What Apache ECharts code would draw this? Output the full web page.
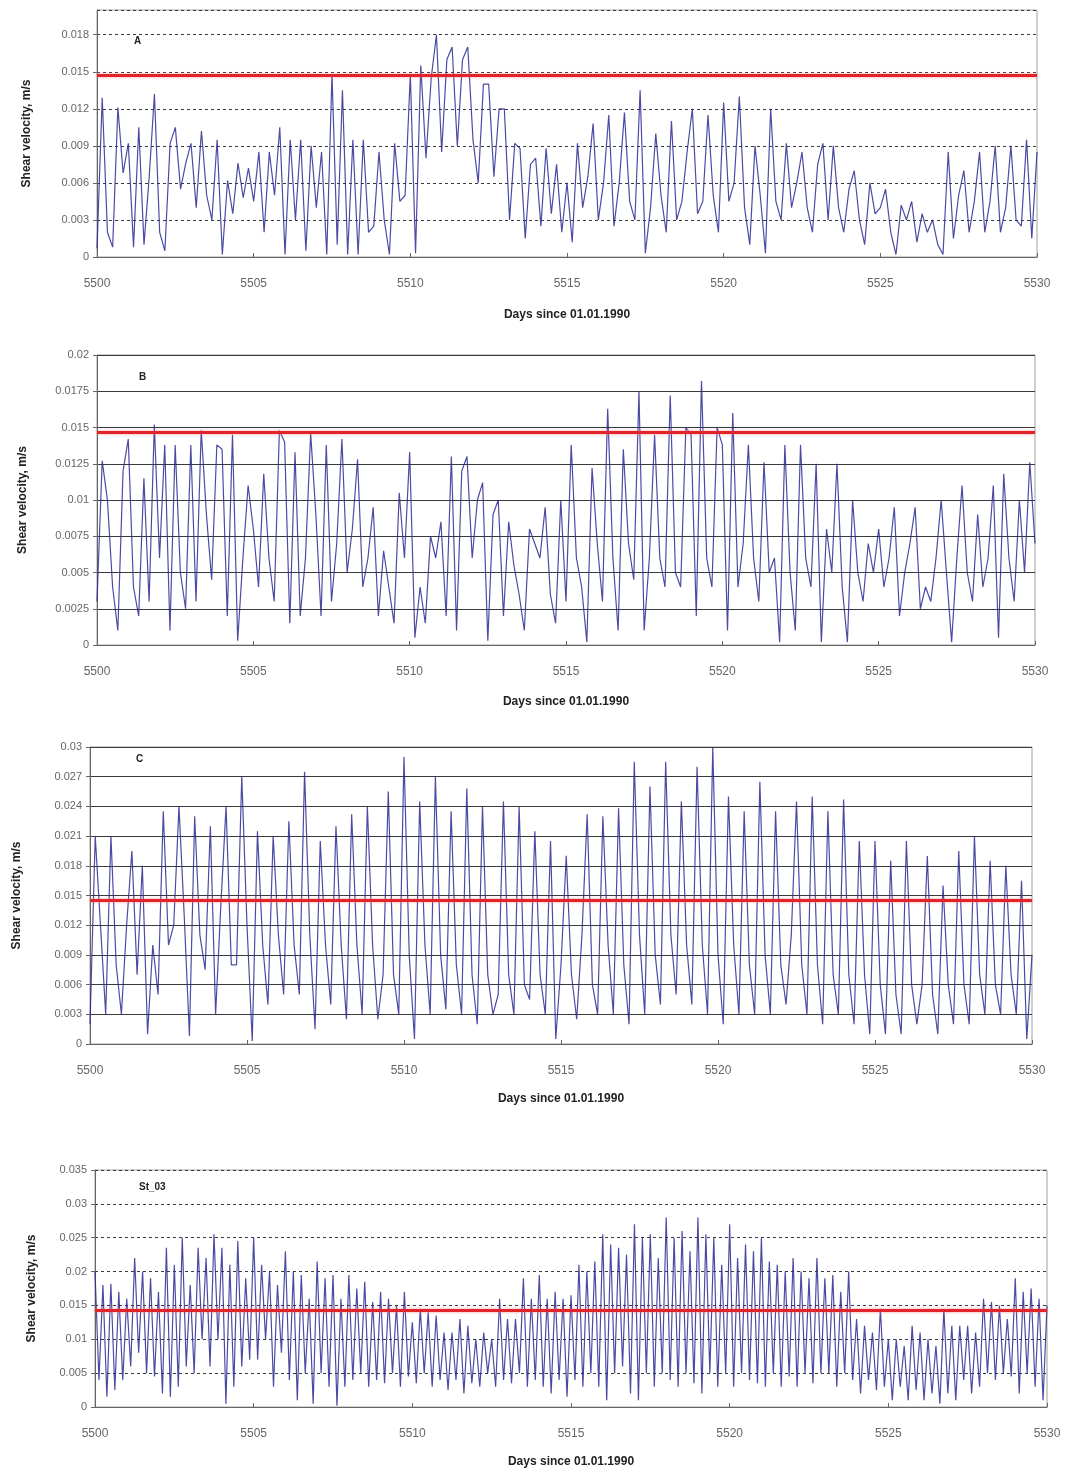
<!DOCTYPE html>
<html lang="en">
<head>
    <meta charset="UTF-8">
    <title>Shear velocity, stations A, B, C, St_03</title>
    <script src="https://cdn.jsdelivr.net/npm/echarts@6.0.0/dist/echarts.min.js"></script>
    <style>
        body { margin: 0; background: #fff; }
    </style>
</head>
<body>
<!-- one canvas, four stacked panels -->
<div id="main" style="width: 1068px;height:1472px;"></div>
<script type="text/javascript">
    // x axis: days since 01.01.1990
    var dayStart = 5500;
    var dayEnd = 5530;
    var xTicks = [5500, 5505, 5510, 5515, 5520, 5525, 5530];

    // panel A, 6 readings per day (m/s)
    var stepA = 1 / 6;
    var velA = [
        0.0007,0.0129,0.0020,0.0008,0.0121,0.0068,
        0.0092,0.0008,0.0105,0.0010,0.0065,0.0132,
        0.0020,0.0005,0.0092,0.0105,0.0055,0.0076,
        0.0092,0.0040,0.0102,0.0050,0.0030,0.0095,
        0.0002,0.0062,0.0035,0.0076,0.0048,0.0072,
        0.0045,0.0085,0.0020,0.0085,0.0050,0.0105,
        0.0002,0.0095,0.0030,0.0095,0.0005,0.0090,
        0.0040,0.0085,0.0002,0.0148,0.0010,0.0135,
        0.0002,0.0095,0.0002,0.0095,0.0020,0.0025,
        0.0085,0.0030,0.0002,0.0092,0.0045,0.0050,
        0.0148,0.0003,0.0155,0.0080,0.0145,0.0180,
        0.0085,0.0160,0.0170,0.0090,0.0160,0.0170,
        0.0095,0.0060,0.0140,0.0140,0.0065,0.0120,
        0.0120,0.0030,0.0092,0.0088,0.0015,0.0075,
        0.0080,0.0025,0.0088,0.0035,0.0075,0.0020,
        0.0060,0.0012,0.0092,0.0040,0.0065,0.0108,
        0.0030,0.0060,0.0115,0.0025,0.0060,0.0117,
        0.0045,0.0030,0.0135,0.0003,0.0040,0.0100,
        0.0050,0.0020,0.0110,0.0030,0.0045,0.0085,
        0.0120,0.0035,0.0045,0.0115,0.0050,0.0020,
        0.0125,0.0045,0.0060,0.0130,0.0040,0.0010,
        0.0090,0.0050,0.0003,0.0120,0.0045,0.0030,
        0.0092,0.0040,0.0060,0.0085,0.0040,0.0020,
        0.0075,0.0092,0.0030,0.0090,0.0040,0.0020,
        0.0055,0.0070,0.0030,0.0010,0.0060,0.0035,
        0.0040,0.0055,0.0020,0.0002,0.0042,0.0030,
        0.0045,0.0012,0.0035,0.0020,0.0030,0.0010,
        0.0002,0.0085,0.0015,0.0050,0.0070,0.0020,
        0.0045,0.0085,0.0020,0.0045,0.0090,0.0020,
        0.0040,0.0090,0.0030,0.0025,0.0095,0.0015,
        0.0085
    ];
    var yTicksA = [0, 0.003, 0.006, 0.009, 0.012, 0.015, 0.018];

    // panel B
    var stepB = 1 / 6;
    var velB = [
        0.0030,0.0127,0.0100,0.0040,0.0010,0.0120,
        0.0142,0.0040,0.0020,0.0115,0.0030,0.0152,
        0.0060,0.0138,0.0010,0.0138,0.0050,0.0025,
        0.0138,0.0030,0.0148,0.0090,0.0045,0.0138,
        0.0135,0.0020,0.0145,0.0003,0.0060,0.0110,
        0.0080,0.0040,0.0118,0.0060,0.0030,0.0148,
        0.0140,0.0015,0.0133,0.0020,0.0060,0.0146,
        0.0090,0.0020,0.0138,0.0030,0.0070,0.0142,
        0.0050,0.0080,0.0128,0.0040,0.0060,0.0095,
        0.0020,0.0065,0.0040,0.0015,0.0105,0.0060,
        0.0133,0.0005,0.0040,0.0015,0.0075,0.0060,
        0.0085,0.0020,0.0130,0.0010,0.0120,0.0130,
        0.0060,0.0100,0.0112,0.0003,0.0090,0.0100,
        0.0020,0.0085,0.0055,0.0035,0.0010,0.0080,
        0.0070,0.0060,0.0095,0.0035,0.0015,0.0100,
        0.0030,0.0138,0.0060,0.0040,0.0002,0.0122,
        0.0070,0.0030,0.0163,0.0060,0.0010,0.0135,
        0.0070,0.0045,0.0175,0.0010,0.0060,0.0145,
        0.0060,0.0040,0.0172,0.0050,0.0040,0.0150,
        0.0145,0.0020,0.0182,0.0060,0.0040,0.0150,
        0.0138,0.0010,0.0160,0.0040,0.0070,0.0138,
        0.0060,0.0030,0.0126,0.0050,0.0060,0.0002,
        0.0138,0.0050,0.0010,0.0138,0.0060,0.0040,
        0.0125,0.0002,0.0080,0.0050,0.0125,0.0040,
        0.0002,0.0100,0.0050,0.0030,0.0070,0.0050,
        0.0080,0.0040,0.0060,0.0095,0.0020,0.0050,
        0.0070,0.0095,0.0025,0.0040,0.0030,0.0060,
        0.0100,0.0050,0.0002,0.0060,0.0110,0.0050,
        0.0030,0.0090,0.0040,0.0060,0.0110,0.0005,
        0.0118,0.0060,0.0030,0.0100,0.0050,0.0126,
        0.0070
    ];
    var yTicksB = [0, 0.0025, 0.005, 0.0075, 0.01, 0.0125, 0.015, 0.0175, 0.02];

    // panel C
    var stepC = 1 / 6;
    var velC = [
        0.0020,0.0210,0.0120,0.0030,0.0210,0.0080,
        0.0030,0.0120,0.0195,0.0070,0.0180,0.0010,
        0.0100,0.0050,0.0235,0.0100,0.0120,0.0240,
        0.0130,0.0008,0.0230,0.0110,0.0075,0.0220,
        0.0030,0.0140,0.0240,0.0080,0.0080,0.0270,
        0.0120,0.0003,0.0215,0.0100,0.0040,0.0210,
        0.0110,0.0050,0.0225,0.0100,0.0050,0.0275,
        0.0110,0.0015,0.0205,0.0100,0.0040,0.0220,
        0.0100,0.0025,0.0232,0.0100,0.0030,0.0240,
        0.0100,0.0025,0.0070,0.0255,0.0070,0.0030,
        0.0290,0.0090,0.0005,0.0245,0.0100,0.0030,
        0.0270,0.0090,0.0035,0.0235,0.0080,0.0030,
        0.0258,0.0070,0.0020,0.0240,0.0070,0.0030,
        0.0050,0.0245,0.0070,0.0030,0.0240,0.0060,
        0.0045,0.0215,0.0070,0.0030,0.0205,0.0005,
        0.0080,0.0190,0.0070,0.0025,0.0110,0.0232,
        0.0060,0.0030,0.0230,0.0100,0.0030,0.0238,
        0.0080,0.0020,0.0285,0.0110,0.0030,0.0260,
        0.0090,0.0040,0.0285,0.0110,0.0050,0.0245,
        0.0100,0.0040,0.0280,0.0100,0.0030,0.0300,
        0.0090,0.0020,0.0250,0.0100,0.0030,0.0235,
        0.0080,0.0030,0.0265,0.0090,0.0030,0.0235,
        0.0080,0.0040,0.0110,0.0245,0.0080,0.0030,
        0.0250,0.0080,0.0020,0.0235,0.0070,0.0030,
        0.0247,0.0070,0.0020,0.0205,0.0070,0.0010,
        0.0205,0.0060,0.0010,0.0185,0.0050,0.0010,
        0.0205,0.0060,0.0020,0.0060,0.0190,0.0050,
        0.0010,0.0160,0.0060,0.0020,0.0195,0.0060,
        0.0020,0.0210,0.0070,0.0030,0.0185,0.0060,
        0.0030,0.0180,0.0070,0.0030,0.0165,0.0005,
        0.0090
    ];
    var yTicksC = [0, 0.003, 0.006, 0.009, 0.012, 0.015, 0.018, 0.021, 0.024, 0.027, 0.03];

    // panel St_03, 8 readings per day
    var stepD = 1 / 8;
    var velD = [
        0.0200,0.0040,0.0180,0.0015,0.0182,0.0025,0.0170,0.0040,
        0.0160,0.0060,0.0220,0.0080,0.0200,0.0050,0.0190,0.0045,
        0.0170,0.0020,0.0235,0.0015,0.0210,0.0030,0.0250,0.0060,
        0.0180,0.0050,0.0235,0.0100,0.0220,0.0060,0.0255,0.0100,
        0.0235,0.0005,0.0210,0.0030,0.0245,0.0060,0.0190,0.0070,
        0.0250,0.0070,0.0210,0.0100,0.0200,0.0030,0.0180,0.0080,
        0.0230,0.0040,0.0200,0.0010,0.0195,0.0050,0.0160,0.0005,
        0.0215,0.0050,0.0190,0.0030,0.0195,0.0002,0.0160,0.0030,
        0.0195,0.0040,0.0175,0.0050,0.0185,0.0030,0.0155,0.0040,
        0.0170,0.0035,0.0160,0.0050,0.0150,0.0030,0.0170,0.0045,
        0.0125,0.0035,0.0145,0.0050,0.0140,0.0030,0.0135,0.0040,
        0.0110,0.0025,0.0110,0.0040,0.0130,0.0020,0.0120,0.0035,
        0.0100,0.0030,0.0110,0.0050,0.0100,0.0030,0.0160,0.0040,
        0.0130,0.0035,0.0130,0.0050,0.0190,0.0030,0.0160,0.0040,
        0.0195,0.0030,0.0160,0.0020,0.0170,0.0040,0.0160,0.0015,
        0.0165,0.0040,0.0210,0.0030,0.0200,0.0050,0.0215,0.0030,
        0.0255,0.0010,0.0240,0.0050,0.0235,0.0060,0.0225,0.0020,
        0.0270,0.0010,0.0250,0.0050,0.0255,0.0030,0.0220,0.0050,
        0.0280,0.0040,0.0250,0.0030,0.0260,0.0050,0.0230,0.0035,
        0.0280,0.0020,0.0255,0.0050,0.0250,0.0030,0.0210,0.0050,
        0.0270,0.0030,0.0220,0.0050,0.0240,0.0040,0.0230,0.0035,
        0.0250,0.0030,0.0215,0.0050,0.0210,0.0030,0.0200,0.0045,
        0.0220,0.0030,0.0200,0.0050,0.0190,0.0035,0.0220,0.0050,
        0.0190,0.0050,0.0195,0.0030,0.0170,0.0050,0.0200,0.0040,
        0.0130,0.0020,0.0120,0.0040,0.0110,0.0025,0.0145,0.0030,
        0.0100,0.0010,0.0100,0.0030,0.0090,0.0010,0.0120,0.0025,
        0.0110,0.0010,0.0100,0.0020,0.0090,0.0005,0.0145,0.0020,
        0.0120,0.0010,0.0120,0.0040,0.0120,0.0020,0.0110,0.0030,
        0.0160,0.0050,0.0155,0.0040,0.0150,0.0050,0.0130,0.0045,
        0.0190,0.0020,0.0170,0.0050,0.0175,0.0030,0.0160,0.0010,
        0.0150
    ];
    var yTicksD = [0, 0.005, 0.01, 0.015, 0.02, 0.025, 0.03, 0.035];

    // critical shear velocity (red line)
    var critical = [0.0147, 0.0147, 0.0145, 0.0143];
    var panelNames = ['A', 'B', 'C', 'St_03'];

    // layout of the four panels (px)
    var panels = [
        {vals: velA, step: stepA, ticks: yTicksA, max: 0.02, left: 97, right: 1037, top: 10, bottom: 257, dashed: true, hideMax: true, yGap: 64, xGap: 52, tag: [138, 42]},
        {vals: velB, step: stepB, ticks: yTicksB, max: 0.02, left: 97, right: 1035, top: 355, bottom: 645, dashed: false, hideMax: false, yGap: 68, xGap: 51, tag: [143, 378]},
        {vals: velC, step: stepC, ticks: yTicksC, max: 0.03, left: 90, right: 1032, top: 747, bottom: 1044, dashed: false, hideMax: false, yGap: 67, xGap: 49, tag: [140, 760]},
        {vals: velD, step: stepD, ticks: yTicksD, max: 0.035, left: 95, right: 1047, top: 1170, bottom: 1407, dashed: true, hideMax: false, yGap: 57, xGap: 49, tag: [143, 1188]}
    ];

    var fontName = 'Liberation Sans, Arial, sans-serif';
    var grids = [], xAxes = [], yAxes = [], series = [], texts = [];

    panels.forEach(function (p, i) {
        grids.push({
            left: p.left, top: p.top,
            width: p.right - p.left, height: p.bottom - p.top,
            show: true, borderColor: '#a0a0a0', borderWidth: 1, backgroundColor: '#fff'
        });
        xAxes.push({
            gridIndex: i, type: 'value',
            min: dayStart, max: dayEnd, interval: xTicks[1] - xTicks[0],
            name: 'Days since 01.01.1990', nameLocation: 'middle', nameGap: p.xGap,
            nameTextStyle: {fontFamily: fontName, fontWeight: 'bold', fontSize: 12, color: '#222'},
            axisLine: {show: true, onZero: false, lineStyle: {color: '#666'}},
            axisTick: {show: true, inside: true, length: 4, lineStyle: {color: '#666'}},
            axisLabel: {
                fontFamily: fontName, fontSize: 12, color: '#666', margin: 21,
                formatter: function (v) { return String(v); }
            },
            splitLine: {show: false}
        });
        yAxes.push({
            gridIndex: i, type: 'value',
            min: 0, max: p.max, interval: p.ticks[1] - p.ticks[0],
            name: 'Shear velocity, m/s', nameLocation: 'middle', nameGap: p.yGap,
            nameTextStyle: {fontFamily: fontName, fontWeight: 'bold', fontSize: 12, color: '#222'},
            axisLine: {show: true, lineStyle: {color: '#666'}},
            axisTick: {show: true, length: 4, lineStyle: {color: '#666'}},
            axisLabel: {fontFamily: fontName, fontSize: 11, color: '#666', margin: 8, showMaxLabel: !p.hideMax},
            splitLine: {show: true, lineStyle: {color: '#3a3a3a', width: 1, type: p.dashed ? [3, 3] : 'solid'}}
        });
        series.push({
            type: 'line', xAxisIndex: i, yAxisIndex: i,
            showSymbol: false, symbol: 'none', silent: true,
            lineStyle: {color: '#2c2c94', width: 1.2, opacity: 0.85},
            data: p.vals.map(function (v, k) { return [dayStart + k * p.step, v]; }),
            markLine: {
                silent: true, symbol: 'none', label: {show: false}, precision: 6,
                lineStyle: {color: '#e1242a', width: 3, type: 'solid', shadowColor: 'rgba(240,120,130,0.8)', shadowBlur: 3},
                data: [{yAxis: critical[i]}]
            }
        });
        texts.push({
            type: 'text', left: p.tag[0] - 4, top: p.tag[1] - 6,
            style: {text: panelNames[i], font: 'bold 10px ' + fontName, fill: '#222'}
        });
    });

    var myChart = echarts.init(document.getElementById('main'));
    myChart.setOption({
        animation: false,
        backgroundColor: '#fff',
        grid: grids,
        xAxis: xAxes,
        yAxis: yAxes,
        series: series,
        graphic: texts
    });
</script>
</body>
</html>
